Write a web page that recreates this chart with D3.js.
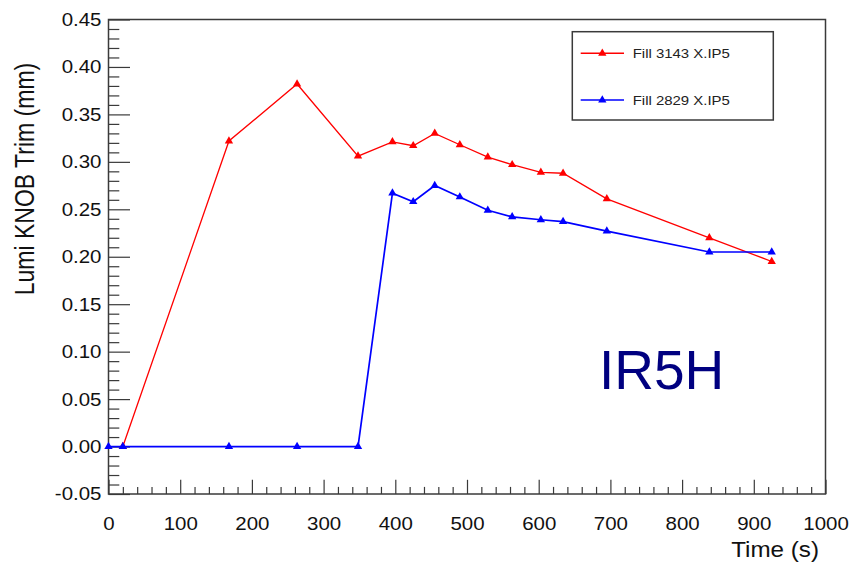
<!DOCTYPE html>
<html><head><meta charset="utf-8">
<script src="https://cdn.jsdelivr.net/npm/d3@7"></script>
<style>body{margin:0;background:#fff} text{font-family:"Liberation Sans",Arial,sans-serif}</style>
</head><body>
<svg id="c" width="852" height="563"></svg>
<script>
const timesRed   = [20, 168, 263, 348, 396, 425, 455, 490, 529, 563, 603, 634, 695, 838, 925];
const valuesRed  = [0, 0.322, 0.382, 0.306, 0.321, 0.317, 0.330, 0.318, 0.305, 0.297, 0.289, 0.288, 0.261, 0.220, 0.195];
const timesBlue  = [0, 20, 168, 263, 348, 396, 425, 455, 490, 529, 563, 603, 634, 695, 838, 925];
const valuesBlue = [0, 0, 0, 0, 0, 0.267, 0.258, 0.275, 0.263, 0.249, 0.242, 0.239, 0.237, 0.227, 0.205, 0.205];
const seriesNames  = ["Fill 3143 X.IP5", "Fill 2829 X.IP5"];
const seriesColors = ["#ff0000", "#0000ff"];
const xTicks = [0, 100, 200, 300, 400, 500, 600, 700, 800, 900, 1000];
const xTickLabels = ["0", "100", "200", "300", "400", "500", "600", "700", "800", "900", "1000"];
const yTicks = [-0.05, 0, 0.05, 0.10, 0.15, 0.20, 0.25, 0.30, 0.35, 0.40, 0.45];
const yTickLabels = ["-0.05", "0.00", "0.05", "0.10", "0.15", "0.20", "0.25", "0.30", "0.35", "0.40", "0.45"];
const xTitle = "Time (s)";
const yTitle = "Lumi KNOB Trim (mm)";
const annotation = "IR5H";

const L = 108.5, R = 825.5, T = 19.5, B = 494;
const SX = 1.1;
const svg = d3.select("#c");
const x = d3.scaleLinear().domain([0, 1000]).range([L, R]);
const y = d3.scaleLinear().domain([-0.05, 0.45]).range([B, T]);

const axisCol = "#3a3a3a";
// minor ticks
const xMinor = d3.range(0, 1001, 20).filter(v => v % 100 !== 0);
const yMinor = d3.range(-5, 46, 1).map(v => v / 100).filter(v => Math.round(v * 100) % 5 !== 0);

const gxm = svg.append("g").attr("transform", `translate(0,${B})`)
  .call(d3.axisBottom(x).tickValues(xMinor).tickSize(-7.1).tickFormat(""));
const gx = svg.append("g").attr("transform", `translate(0,${B})`)
  .call(d3.axisBottom(x).tickValues(xTicks).tickSize(-14.2).tickPadding(22.5)
    .tickFormat((d, i) => xTickLabels[i]));
const gym = svg.append("g").attr("transform", `translate(${L},0)`)
  .call(d3.axisLeft(y).tickValues(yMinor).tickSize(-10.8).tickFormat(""));
const gy = svg.append("g").attr("transform", `translate(${L},0)`)
  .call(d3.axisLeft(y).tickValues(yTicks).tickSize(-21.5).tickPadding(7)
    .tickFormat((d, i) => yTickLabels[i]));

[gxm, gx, gym, gy].forEach(g => {
  g.select(".domain").remove();
  g.selectAll(".tick line").attr("stroke", axisCol).attr("stroke-width", 1.2);
});
gx.selectAll(".tick text").attr("font-size", 18.6).attr("fill", "#111")
  .attr("transform", `scale(${SX},1)`);
gy.selectAll(".tick text").attr("font-size", 18.6).attr("fill", "#111")
  .attr("x", -7 / SX).attr("transform", `scale(${SX},1)`);

// frame
svg.append("rect").attr("x", L).attr("y", T).attr("width", R - L).attr("height", B - T)
  .attr("fill", "none").attr("stroke", axisCol).attr("stroke-width", 1.5);

// series
const series = [
  {t: timesRed, v: valuesRed, color: seriesColors[0], w: 1.3},
  {t: timesBlue, v: valuesBlue, color: seriesColors[1], w: 1.7}
];
const line = d3.line().x(d => x(d[0])).y(d => y(d[1]));
const tri = d3.symbol().type(d3.symbolTriangle).size(30);
series.forEach(s => {
  const pts = s.t.map((t, i) => [t, s.v[i]]);
  svg.append("path").datum(pts).attr("d", line).attr("fill", "none")
    .attr("stroke", s.color).attr("stroke-width", s.w);
  svg.append("g").selectAll("path").data(pts).join("path")
    .attr("d", tri).attr("transform", d => `translate(${x(d[0])},${y(d[1])})`)
    .attr("fill", s.color);
});

// legend
const lg = svg.append("g");
lg.append("rect").attr("x", 572.3).attr("y", 31.7).attr("width", 201).attr("height", 88.3)
  .attr("fill", "#fff").attr("stroke", axisCol).attr("stroke-width", 1.5);
const legY = [53.3, 100];
seriesNames.forEach((n, i) => {
  lg.append("line").attr("x1", 580.7).attr("x2", 624).attr("y1", legY[i]).attr("y2", legY[i])
    .attr("stroke", seriesColors[i]).attr("stroke-width", 1.5);
  lg.append("path").attr("d", tri).attr("transform", `translate(602.3,${legY[i]})`).attr("fill", seriesColors[i]);
  lg.append("text").attr("x", 632.7 / SX).attr("y", legY[i] + 5)
    .attr("transform", `scale(${SX},1)`).attr("font-size", 13.6).attr("fill", "#222").text(n);
});

// titles
svg.append("text").attr("transform", `translate(819,557) scale(${SX},1)`)
  .attr("text-anchor", "end").attr("font-size", 22).attr("fill", "#111").text(xTitle);
svg.append("text").attr("transform", `translate(34,179) scale(1.2,1) rotate(-90)`)
  .attr("text-anchor", "middle").attr("font-size", 23).attr("fill", "#111").text(yTitle);

svg.append("text").attr("x", 599).attr("y", 389).attr("font-size", 55)
  .attr("fill", "#000080").text(annotation);
</script>
</body></html>
